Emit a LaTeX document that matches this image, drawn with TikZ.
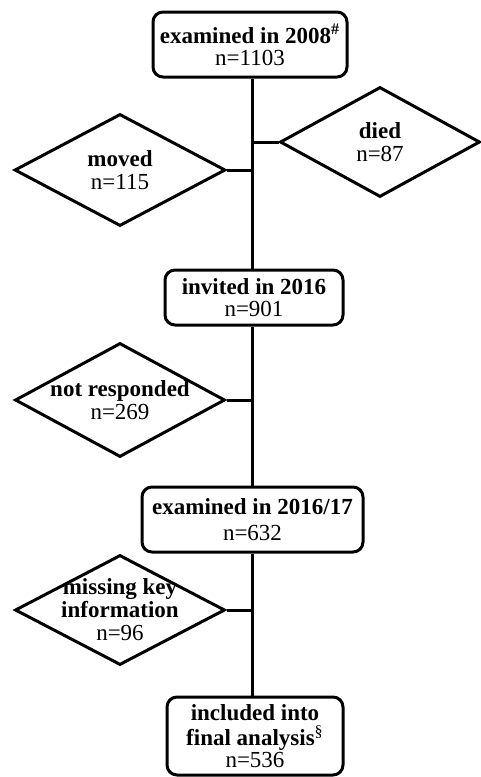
\documentclass[tikz,border=0pt]{standalone}
\usepackage{fontspec}
\setmainfont{Liberation Serif}
\usetikzlibrary{shapes.geometric}
\tikzset{
  flowbox/.style={draw, line width=1.5pt, rounded corners=5pt, align=center,
    inner sep=0pt, font=\fontsize{11.5}{11}\selectfont},
  dropbox/.style={diamond, draw, line width=1.5pt, aspect=1.9, inner sep=-8pt,
    align=center, font=\fontsize{11.5}{11.5}\selectfont},
  linkln/.style={line width=1.5pt},
}

\begin{document}
\begin{tikzpicture}[x=0.5pt,y=-0.5pt]
    \useasboundingbox (0,0) rectangle (481,777);
    \coordinate (trunk) at (252,0);
    % main boxes
    \node[flowbox, minimum width=97pt, minimum height=32.5pt] (exam08) at (250,44.5)
      {\textbf{examined in 2008}\textsuperscript{\textbf{\#}}\\n=1103};
    \node[flowbox, minimum width=89pt, minimum height=27.5pt] (invite) at (254,297.5)
      {\textbf{invited in 2016}\\n=901};
    \node[flowbox, minimum width=110.5pt, minimum height=32.5pt] (exam16) at (252.5,519.5)
      {\textbf{examined in 2016/17}\\[2pt]n=632};
    \node[flowbox, minimum width=88pt, minimum height=39pt] (final) at (255,736)
      {\textbf{included into}\\[1.5pt]\textbf{final analysis}\textsuperscript{\S}\\n=536};
    % drop-outs
    \node[dropbox, minimum width=105.5pt, minimum height=56pt] (moved) at (120,170)
      {\textbf{moved}\\n=115};
    \node[dropbox, minimum width=100pt, minimum height=55pt] (died) at (380,142)
      {\textbf{died}\\n=87};
    \node[dropbox, minimum width=105pt, minimum height=57pt] (noresp) at (120,400)
      {\textbf{not responded}\\n=269};
    \node[dropbox, minimum width=105pt, minimum height=55pt] (missing) at (120,610)
      {\textbf{missing key}\\\textbf{information}\\n=96};
    % trunk
    \draw[linkln] (exam08.south -| trunk) -- (invite.north -| trunk);
    \draw[linkln] (invite.south -| trunk) -- (exam16.north -| trunk);
    \draw[linkln] (exam16.south -| trunk) -- (final.north -| trunk);
    % side links
    \draw[linkln] (moved.east) -- (moved.east -| trunk);
    \draw[linkln] (died.west) -- (died.west -| trunk);
    \draw[linkln] (noresp.east) -- (noresp.east -| trunk);
    \draw[linkln] (missing.east) -- (missing.east -| trunk);
\end{tikzpicture}
\end{document}
